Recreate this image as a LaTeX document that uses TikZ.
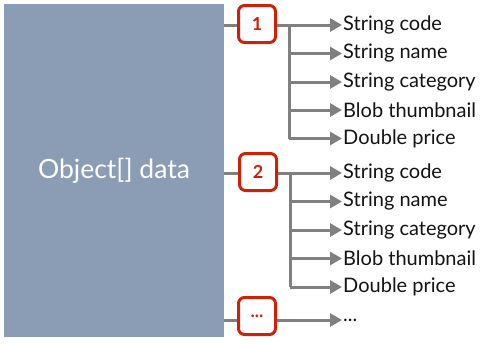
\documentclass[tikz,border=0pt]{standalone}
\usepackage{fontspec}
\setmainfont{Lato}
\usetikzlibrary{positioning,arrows.meta,calc}
\definecolor{dBlock}{RGB}{138,157,181}
\definecolor{dRed}{RGB}{204,34,8}
\definecolor{dLine}{RGB}{128,128,128}
\definecolor{dText}{RGB}{20,20,20}
\tikzset{
  block/.style={rectangle, draw=none, fill=dBlock, minimum width=220pt,
                minimum height=333pt, font=\fontsize{26.5}{30}\selectfont,
                text=white},
  idx/.style={rectangle, rounded corners=6pt, draw=dRed, line width=3pt,
              fill=white, minimum size=37pt, inner sep=0pt, text=dRed,
              font=\fontsize{18}{20}\selectfont\bfseries},
  field/.style={anchor=west, inner sep=1pt, text=dText,
                font=\fontsize{20}{22}\selectfont},
  link/.style={draw=dLine, line width=3pt},
  flow/.style={link, -{Triangle[length=12pt, width=13pt]}},
}
\newcommand{\Branch}[2]{% {trunk}{field}
  \draw[flow] (#1 |- #2) -- (#2.west);}

\begin{document}
\begin{tikzpicture}[x=1pt, y=-1pt]
  \useasboundingbox[fill=white] (0,0) rectangle (490,343);
  \node[block] (data) at (114,170.5) {Object[] data};
  \node[idx] (idx1) at (257,24) {1};
  \node[idx] (idx2) at (258,172) {2};
  \node[idx] (idxd) at (257,316) {...};
  % first element
  \node[field] (f11) at (342,25) {String code};
  \node[field] (f12) at (342,53.5) {String name};
  \node[field] (f13) at (342,82) {String category};
  \node[field] (f14) at (342,110) {Blob thumbnail};
  \node[field] (f15) at (342,138.5) {Double price};
  % second element
  \node[field] (f21) at (342,173) {String code};
  \node[field] (f22) at (342,201.5) {String name};
  \node[field] (f23) at (342,230) {String category};
  \node[field] (f24) at (342,258.5) {Blob thumbnail};
  \node[field] (f25) at (342,287) {Double price};
  \node[field] (fd) at (342,320) {...};
  \coordinate (t1) at (289,25);
  \coordinate (t2) at (290,173);
  \draw[link] (data.east |- f11) -- (idx1.west |- f11);
  \draw[link] (data.east |- f21) -- (idx2.west |- f21);
  \draw[link] (data.east |- fd) -- (idxd.west |- fd);
  \draw[flow] (idx1.east |- f11) -- (f11.west);
  \draw[flow] (idx2.east |- f21) -- (f21.west);
  \draw[flow] (idxd.east |- fd) -- (fd.west);
  \draw[link] (t1) -- (t1 |- f15);
  \draw[link] (t2) -- (t2 |- f25);
  \Branch{t1}{f12}
  \Branch{t1}{f13}
  \Branch{t1}{f14}
  \Branch{t1}{f15}
  \Branch{t2}{f22}
  \Branch{t2}{f23}
  \Branch{t2}{f24}
  \Branch{t2}{f25}
\end{tikzpicture}
\end{document}
